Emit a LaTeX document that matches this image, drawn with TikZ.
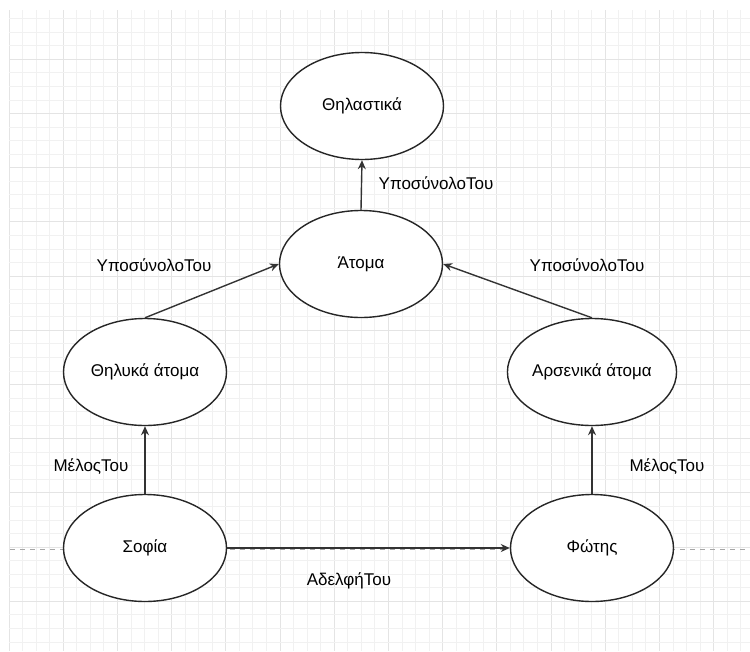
\documentclass[tikz,border=0pt]{standalone}
\usepackage{fontspec}
\setmainfont{Liberation Sans}
\usetikzlibrary{shapes.geometric,arrows.meta}
\definecolor{minorg}{HTML}{F1F1F1}
\definecolor{majorg}{HTML}{E4E4E4}
\tikzset{
  ent/.style={draw=black!85, line width=1.4pt, fill=white, ellipse, minimum width=163pt, minimum height=107pt, inner sep=0pt, font=\fontsize{17}{20}\selectfont},
  rel/.style={draw=black!80, line width=1.4pt, -{Stealth[length=9pt,width=8pt]}},
  lbl/.style={font=\fontsize{17}{20}\selectfont, inner sep=0pt},
  minorgrid/.style={draw=minorg, line width=0.9pt},
  majorgrid/.style={draw=majorg, line width=1pt}
}
\begin{document}
\begin{tikzpicture}[x=1pt,y=-1pt]
\useasboundingbox (0,0) rectangle (750,651);
\fill[white] (0,0) rectangle (750,651);
\begin{scope}
\clip (9,10) rectangle (750,651);
\foreach \i in {0,...,55}{
  \pgfmathsetmacro\xx{9+13.55*\i}
  \pgfmathtruncatemacro\m{mod(\i,4)}
  \ifnum\m=0 \draw[majorgrid] (\xx,10) -- (\xx,651); \else \draw[minorgrid] (\xx,10) -- (\xx,651); \fi
}
\foreach \j in {0,...,47}{
  \pgfmathsetmacro\yy{18.65+13.55*\j}
  \pgfmathtruncatemacro\m{mod(\j,4)}
  \ifnum\m=3 \draw[majorgrid] (9,\yy) -- (750,\yy); \else \draw[minorgrid] (9,\yy) -- (750,\yy); \fi
}
\end{scope}
\coordinate (dl) at (10,549);
\coordinate (dr) at (750,549);
\draw[gray!70, line width=1pt, dash pattern=on 5pt off 5pt] (dl) -- (dr);

\node[ent] (mam) at (362,106) {Θηλαστικά};
\node[ent] (ato) at (361,264) {Άτομα};
\node[ent] (fem) at (145,372) {Θηλυκά άτομα};
\node[ent] (mal) at (592,372) {Αρσενικά άτομα};
\node[ent] (sof) at (145,548) {Σοφία};
\node[ent] (fot) at (592,548) {Φώτης};

\draw[rel] (ato.north) -- (mam.south);
\draw[rel] (fem.north) -- (ato.west);
\draw[rel] (mal.north) -- (ato.east);
\draw[rel] (sof.north) -- (fem.south);
\draw[rel] (fot.north) -- (mal.south);
\draw[rel] (sof.east) -- (fot.west);

\node[lbl] (l1) at (436,183) {ΥποσύνολοΤου};
\node[lbl] (l2) at (154,265) {ΥποσύνολοΤου};
\node[lbl] (l3) at (587,265) {ΥποσύνολοΤου};
\node[lbl] (l4) at (91,467) {ΜέλοςΤου};
\node[lbl] (l5) at (667,467) {ΜέλοςΤου};
\node[lbl] (l6) at (349,581) {ΑδελφήΤου};
\end{tikzpicture}
\end{document}
